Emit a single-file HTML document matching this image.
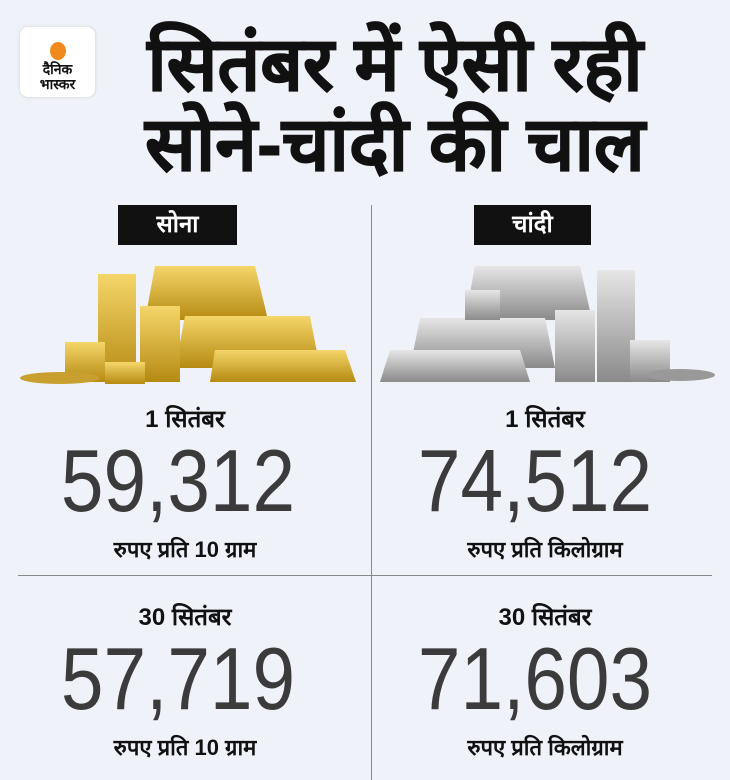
<!DOCTYPE html>
<html><head><meta charset="utf-8"><style>
body{margin:0;width:730px;height:780px;background:#eff2f9;position:relative;overflow:hidden;font-family:"Liberation Sans","Noto Sans CJK SC",sans-serif;color:#111}
.a{position:absolute}
.c{text-align:center}
.t{font-weight:900;font-size:75px;line-height:78px;left:75px;width:640px;color:#111;-webkit-text-stroke:1px #111}
.lab{background:#111;color:#fff;font-size:24px;font-weight:bold;line-height:40px;height:40px}
.d{font-size:24px;font-weight:bold;width:370px}
.n{font-size:88px;color:#3b3b3b;width:370px;line-height:90px;transform:scaleX(0.87)}
.u{font-size:22px;font-weight:bold;width:370px}
</style></head><body>
<div class="a" style="left:20px;top:27px;width:75px;height:70px;background:#fff;border-radius:8px;box-shadow:0 0 3px #ccc"></div>
<div class="a" style="left:50px;top:42px;width:16px;height:18px;border-radius:50%;background:#f08a1e"></div>
<div class="a c" style="left:20px;top:62px;width:75px;font-size:14px;font-weight:bold;line-height:15px">दैनिक<br>भास्कर</div>
<div class="a t c" style="top:25px">सितंबर में ऐसी रही</div>
<div class="a t c" style="top:105px">सोने-चांदी की चाल</div>
<div class="a" style="left:371px;top:205px;width:1px;height:575px;background:#888"></div>
<div class="a" style="left:18px;top:575px;width:694px;height:1px;background:#888"></div>
<div class="a lab c" style="left:118px;top:205px;width:119px">सोना</div>
<div class="a lab c" style="left:474px;top:205px;width:117px">चांदी</div>
<svg class="a" style="left:0;top:250px" width="730" height="140">
<defs><linearGradient id="g" x1="0" y1="0" x2="0" y2="1"><stop offset="0" stop-color="#f5d66a"/><stop offset="1" stop-color="#b58a12"/></linearGradient>
<linearGradient id="s" x1="0" y1="0" x2="0" y2="1"><stop offset="0" stop-color="#e6e6e6"/><stop offset="1" stop-color="#8a8a8a"/></linearGradient></defs>
<polygon points="155,16 255,16 268,70 145,70" fill="url(#g)"/>
<polygon points="185,66 310,66 320,118 175,118" fill="url(#g)"/>
<polygon points="215,100 345,100 356,132 210,132" fill="url(#g)"/>
<rect x="98" y="24" width="38" height="108" fill="url(#g)"/>
<rect x="140" y="56" width="40" height="76" fill="url(#g)"/>
<rect x="65" y="92" width="40" height="40" fill="url(#g)"/>
<rect x="105" y="112" width="40" height="22" fill="url(#g)"/>
<ellipse cx="60" cy="128" rx="40" ry="6" fill="#c9a030"/>
<polygon points="475,16 580,16 592,70 465,70" fill="url(#s)"/>
<polygon points="420,68 545,68 555,118 410,118" fill="url(#s)"/>
<polygon points="390,100 520,100 530,132 380,132" fill="url(#s)"/>
<rect x="597" y="20" width="38" height="112" fill="url(#s)"/>
<rect x="555" y="60" width="40" height="72" fill="url(#s)"/>
<rect x="630" y="90" width="40" height="42" fill="url(#s)"/>
<rect x="465" y="40" width="35" height="30" fill="url(#s)"/>
<ellipse cx="680" cy="125" rx="35" ry="6" fill="#999"/>
</svg>
<div class="a d c" style="left:0;top:402px">1 सितंबर</div>
<div class="a n c" style="left:-7px;top:436px">59,312</div>
<div class="a u c" style="left:0;top:534px">रुपए प्रति 10 ग्राम</div>
<div class="a d c" style="left:360px;top:402px">1 सितंबर</div>
<div class="a n c" style="left:350px;top:436px">74,512</div>
<div class="a u c" style="left:360px;top:534px">रुपए प्रति किलोग्राम</div>
<div class="a d c" style="left:0;top:600px">30 सितंबर</div>
<div class="a n c" style="left:-7px;top:634px">57,719</div>
<div class="a u c" style="left:0;top:732px">रुपए प्रति 10 ग्राम</div>
<div class="a d c" style="left:360px;top:600px">30 सितंबर</div>
<div class="a n c" style="left:350px;top:634px">71,603</div>
<div class="a u c" style="left:360px;top:732px">रुपए प्रति किलोग्राम</div>
</body></html>
